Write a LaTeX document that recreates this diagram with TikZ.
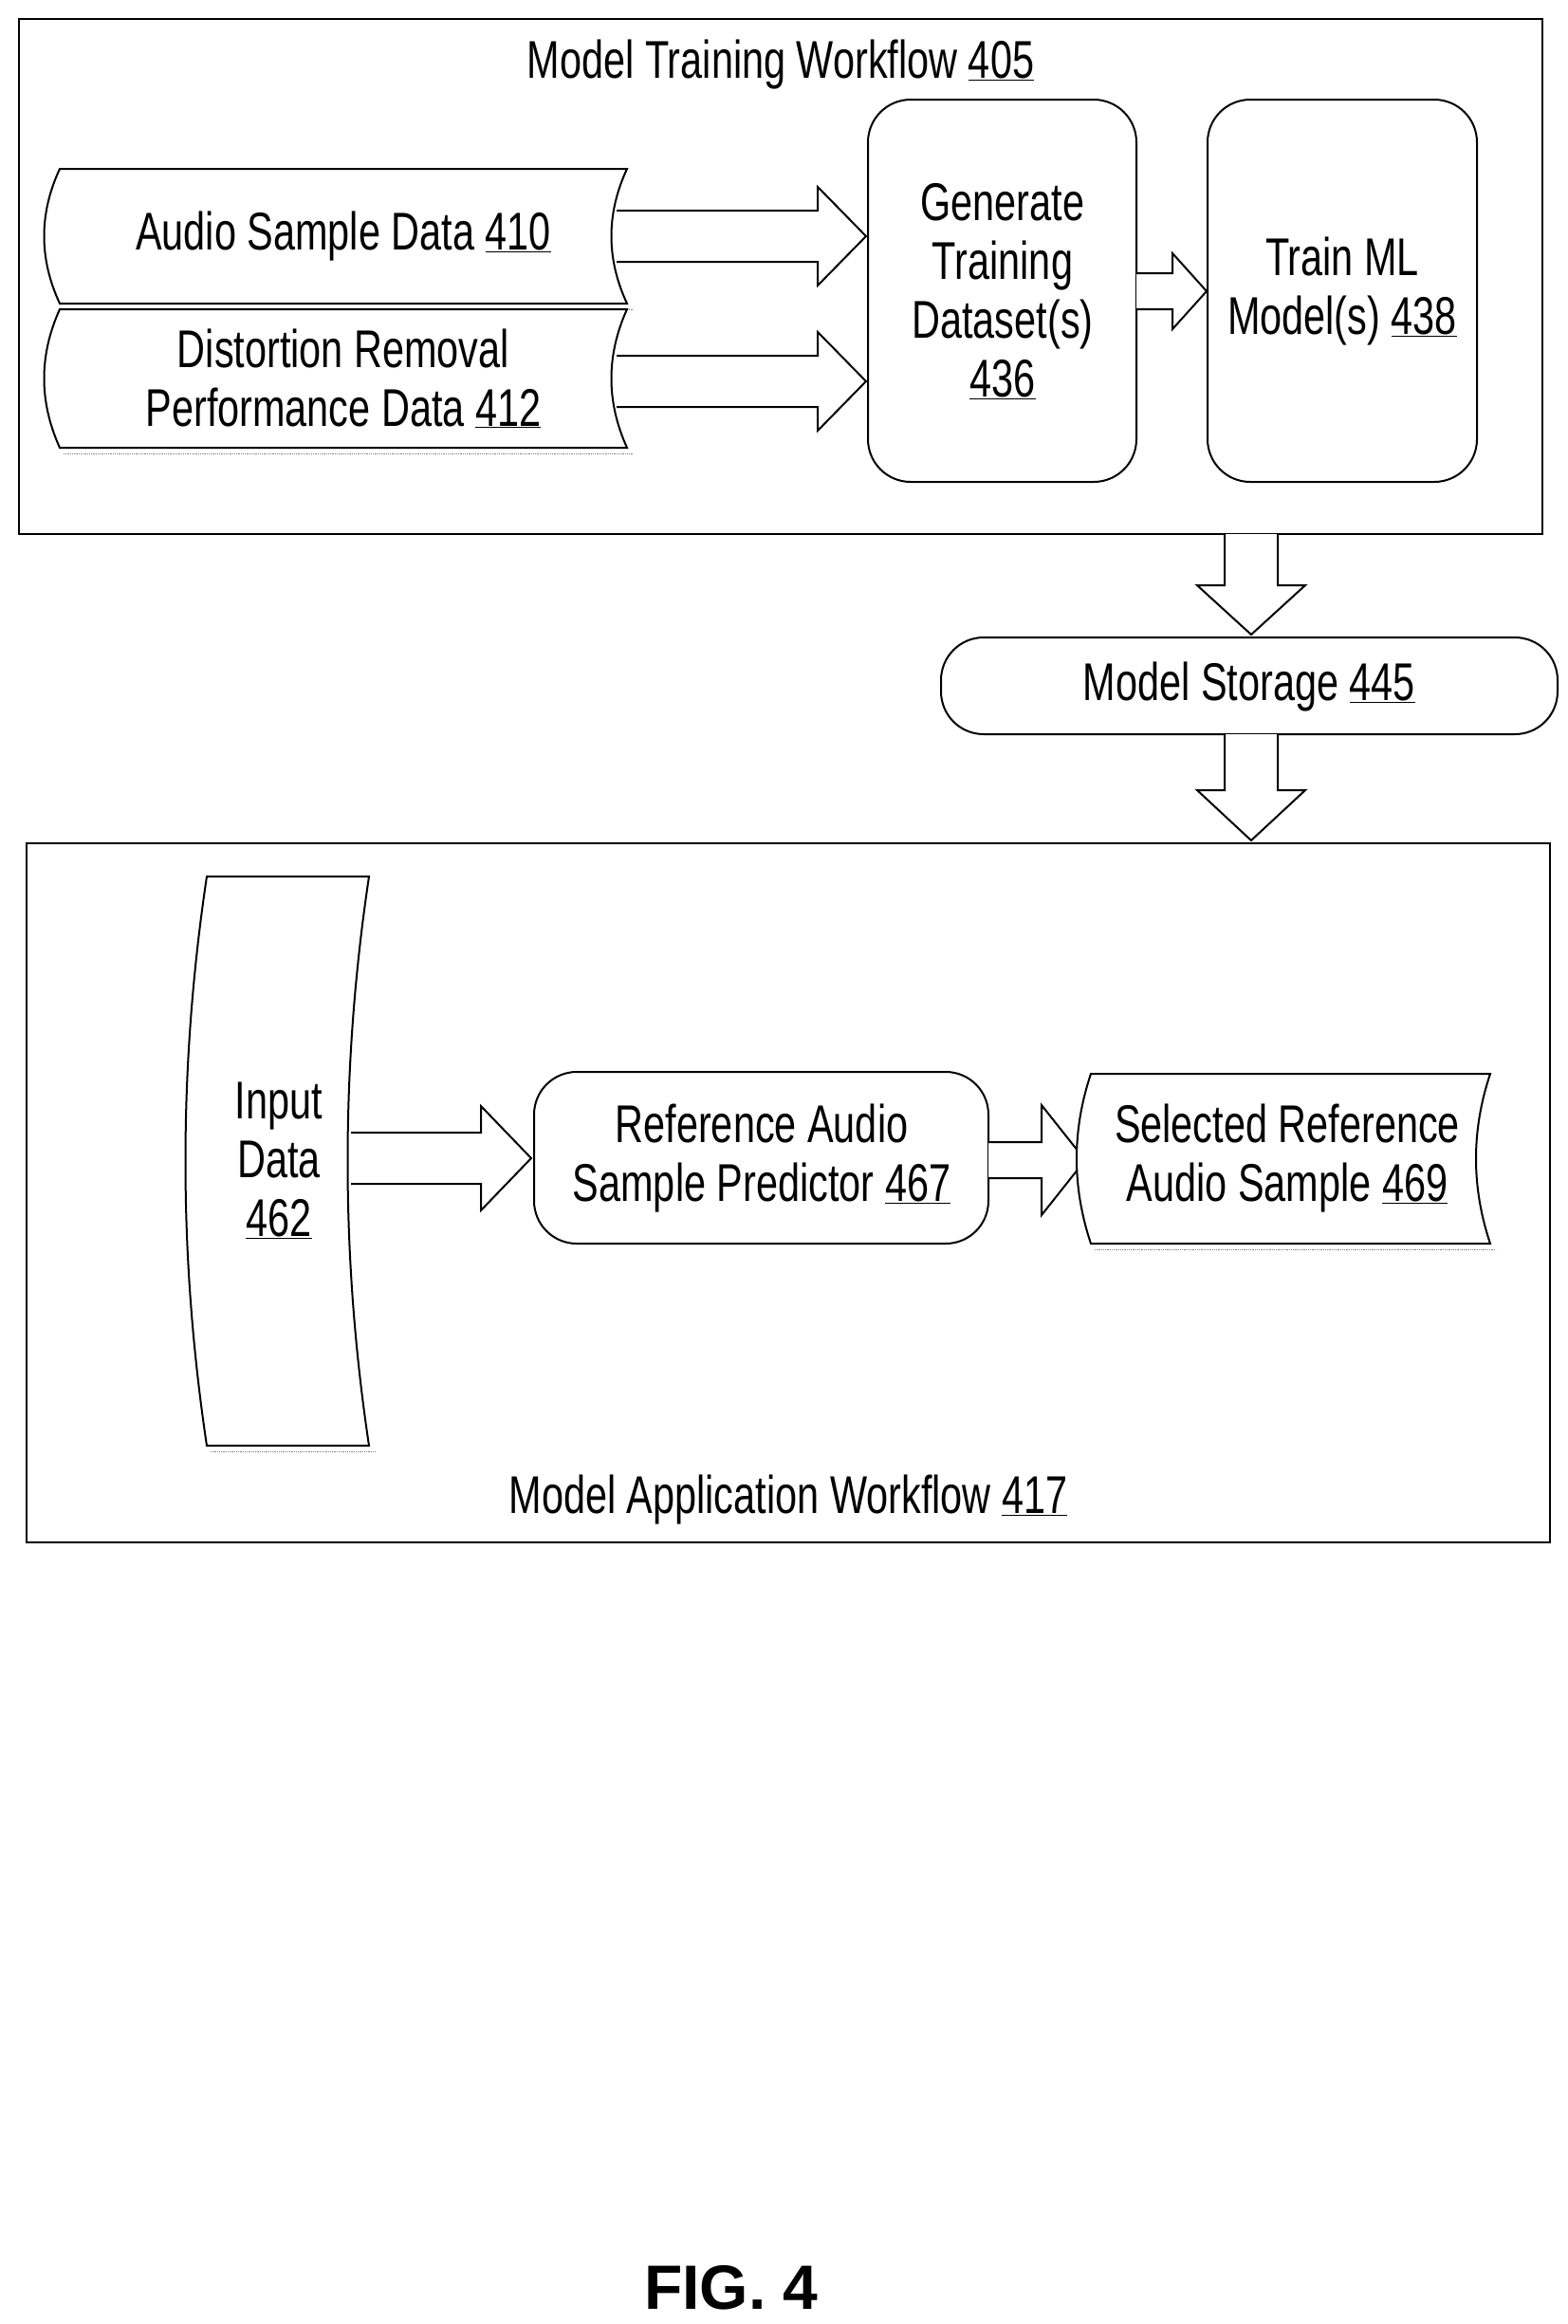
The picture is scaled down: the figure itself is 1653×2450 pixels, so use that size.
\documentclass[tikz,border=0pt]{standalone}
\usepackage{fontspec}
\setmainfont{Liberation Sans}[FakeStretch=0.74]
\newfontfamily\figfont{Liberation Sans}
\newcommand{\ul}[1]{\underline{#1}}
\newcommand{\harrow}[6]{% x0 xh xt yc shaft head
  \draw[line width=2pt,fill=white] (#1,#4-#5) -- (#2,#4-#5) -- (#2,#4-#6) -- (#3,#4) -- (#2,#4+#6) -- (#2,#4+#5) -- (#1,#4+#5);}
\newcommand{\varrow}[6]{% y0 yh yt xc shaft head
  \draw[line width=2pt,fill=white] (#4-#5,#1) -- (#4-#5,#2) -- (#4-#6,#2) -- (#4,#3) -- (#4+#6,#2) -- (#4+#5,#2) -- (#4+#5,#1);}
\newcommand{\docshape}[5]{% x1 y1 x2 y2 bow
  \draw[densely dotted,line width=0.8pt,gray] (#1+4,#4+6) -- (#3+6,#4+6);
  \draw[line width=2pt,fill=white] (#1,#2) -- (#3,#2) .. controls (#3-#5,#2+#4/3-#2/3) and (#3-#5,#2/3+2*#4/3) .. (#3,#4) -- (#1,#4) .. controls (#1-#5,#2/3+2*#4/3) and (#1-#5,#2+#4/3-#2/3) .. (#1,#2) -- cycle;}
\begin{document}
\begin{tikzpicture}[x=1pt,y=-1pt,
  txt/.style={font=\fontsize{56}{62}\selectfont,align=center,inner sep=0pt},
  rbox/.style={draw,line width=2pt,rounded corners=45pt}]
\useasboundingbox (0,0) rectangle (1653,2450);
% top frame
\draw[line width=2pt] (20,20) rectangle (1626,563);
\node[txt] (t1) at (823,68) {Model Training Workflow \ul{405}};
\docshape{63}{178}{661}{320}{22}
\node[txt] (a410) at (362,249) {Audio Sample Data \ul{410}};
\docshape{63}{326}{661}{472}{22}
\node[txt] (a412) at (362,399) {Distortion Removal\\Performance Data \ul{412}};
\draw[rbox] (915,105) rectangle (1198,508);
\node[txt] (g436) at (1057,307) {Generate\\Training\\Dataset(s)\\\ul{436}};
\draw[rbox] (1273,105) rectangle (1557,508);
\node[txt] (m438) at (1415,307) {Train ML\\Model(s) \ul{438}};
\harrow{650}{862}{913}{249}{27}{52}
\harrow{650}{862}{913}{402}{27}{52}
\harrow{1198}{1236}{1272}{307}{19}{40}
\varrow{563}{617}{669}{1319}{28}{57}
\draw[line width=2pt,rounded corners=45pt] (992,672) rectangle (1642,774);
\node[txt] (s445) at (1317,724) {Model Storage \ul{445}};
\varrow{774}{833}{886}{1319}{28}{57}
% bottom frame
\draw[line width=2pt] (28,889) rectangle (1634,1626);
\node[txt] (t2) at (831,1581) {Model Application Workflow \ul{417}};
\docshape{218}{924}{389}{1524}{30}
\node[txt] (i462) at (294,1223) {Input\\Data\\\ul{462}};
\harrow{370}{507}{560}{1221}{27}{55}
\draw[rbox] (563,1130) rectangle (1042,1311);
\node[txt] (p467) at (803,1221) {Reference Audio\\Sample Predictor \ul{467}};
\harrow{1042}{1098}{1144}{1223}{19}{58}
\docshape{1150}{1132}{1571}{1311}{20}
\node[txt] (r469) at (1357,1221) {Selected Reference\\Audio Sample \ul{469}};
\node[font=\figfont\fontsize{66}{70}\selectfont\bfseries,inner sep=0pt] (fig) at (771,2412) {FIG. 4};
\end{tikzpicture}
\end{document}
